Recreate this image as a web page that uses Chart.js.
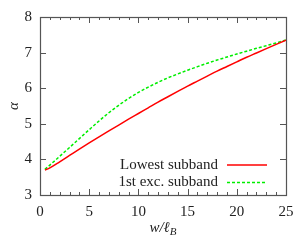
<!DOCTYPE html>
<html>
<head>
<meta charset="utf-8">
<script src="https://cdn.jsdelivr.net/npm/chart.js@4"></script>
<style>
html,body{margin:0;padding:0;background:#fff;}
#wrap{width:307px;height:245px;position:relative;}
</style>
</head>
<body>
<div id="wrap"><canvas id="c" width="307" height="245"></canvas></div>
<script>
const xValues = [0.5,1,2,3,4,5,6,7,8,9,10,11,12,13,14,15,16,17,18,19,20,21,22,23,24,25];
const lowestSubband = [3.70,3.76,3.93,4.11,4.29,4.465,4.635,4.80,4.965,5.13,5.29,5.45,5.61,5.76,5.91,6.06,6.20,6.34,6.48,6.61,6.74,6.87,6.99,7.11,7.23,7.35];
const firstExcSubband = [3.72,3.84,4.085,4.335,4.585,4.835,5.08,5.31,5.52,5.71,5.88,6.03,6.165,6.29,6.40,6.505,6.605,6.70,6.79,6.875,6.96,7.04,7.12,7.195,7.27,7.355];
const seriesLabels = ["Lowest subband","1st exc. subband"];
const xTicks = [0,5,10,15,20,25];
const yTicks = [3,4,5,6,7,8];

const FONT = "'Liberation Serif', serif";
const TXT = "#222";
const FRAME = "#555";

const toPts = (ys) => xValues.map((x,i)=>({x:x,y:ys[i]}));

const framePlugin = {
  id:'frame',
  afterDatasetsDraw(chart){
    const ctx = chart.ctx, a = chart.chartArea;
    const xs = chart.scales.x, ys = chart.scales.y;
    ctx.save();
    ctx.strokeStyle = FRAME; ctx.lineWidth = 1;
    ctx.beginPath();
    for(let v=0; v<=25; v++){
      const px = Math.round(xs.getPixelForValue(v))+0.5;
      const len = (v%5===0)?6:3;
      ctx.moveTo(px,a.bottom); ctx.lineTo(px,a.bottom-len);
      ctx.moveTo(px,a.top); ctx.lineTo(px,a.top+len);
    }
    yTicks.forEach(v=>{
      const py = Math.round(ys.getPixelForValue(v))+0.5;
      ctx.moveTo(a.left,py); ctx.lineTo(a.left+6,py);
      ctx.moveTo(a.right,py); ctx.lineTo(a.right-6,py);
    });
    ctx.stroke();
    ctx.lineWidth = 1.2;
    ctx.strokeRect(Math.round(a.left)+0.5, Math.round(a.top)+0.5, Math.round(a.right-a.left), Math.round(a.bottom-a.top));
    // legend
    ctx.font = "15px " + FONT;
    ctx.fillStyle = TXT; ctx.textAlign='right'; ctx.textBaseline='middle';
    const rows = [165, 182.5];
    chart.data.datasets.forEach((ds,i)=>{
      ctx.fillText(ds.label, 218, rows[i]);
      ctx.strokeStyle = ds.borderColor; ctx.lineWidth = 1.5;
      ctx.setLineDash(ds.borderDash||[]);
      ctx.beginPath(); ctx.moveTo(227,rows[i]); ctx.lineTo(267,rows[i]); ctx.stroke();
      ctx.setLineDash([]);
    });
    // x title w/ℓ_B
    ctx.textAlign='left'; ctx.textBaseline='alphabetic';
    ctx.font = "italic 15px " + FONT;
    const main = "w/ℓ";
    const wMain = ctx.measureText(main).width;
    ctx.font = "italic 11px " + FONT;
    const wSub = ctx.measureText("B").width;
    const cx = (a.left+a.right)/2;
    const x0 = cx - (wMain+wSub)/2;
    ctx.font = "italic 15px " + FONT;
    ctx.fillText(main, x0, 232);
    ctx.font = "italic 11px " + FONT;
    ctx.fillText("B", x0+wMain, 235);
    ctx.restore();
  }
};

new Chart(document.getElementById('c'), {
  type:'line',
  data:{
    datasets:[
      {label:seriesLabels[0], data:toPts(lowestSubband), borderColor:'#ff0000', borderWidth:1.5, pointRadius:0, fill:false, cubicInterpolationMode:'monotone'},
      {label:seriesLabels[1], data:toPts(firstExcSubband), borderColor:'#00ee00', borderWidth:1.5, borderDash:[3,2], pointRadius:0, fill:false, cubicInterpolationMode:'monotone'}
    ]
  },
  options:{
    responsive:false, animation:false,
    layout:{padding:{left:5,right:21,top:17,bottom:0}},
    plugins:{legend:{display:false}, tooltip:{enabled:false}},
    scales:{
      x:{type:'linear', min:0, max:25,
        afterBuildTicks(s){ s.ticks = xTicks.map(v=>({value:v})); },
        afterFit(s){ s.height = 50; },
        grid:{display:false, drawTicks:false}, border:{display:false},
        ticks:{color:TXT, padding:8, maxRotation:0, font:{family:FONT, size:15}}
      },
      y:{type:'linear', min:3, max:8,
        afterBuildTicks(s){ s.ticks = yTicks.map(v=>({value:v})); },
        afterFit(s){ s.width = 35; },
        grid:{display:false, drawTicks:false}, border:{display:false},
        ticks:{color:TXT, padding:8, font:{family:FONT, size:15}},
        title:{display:true, text:'α', color:TXT, padding:{top:0,bottom:0}, font:{family:FONT, size:15, style:'italic'}}
      }
    }
  },
  plugins:[framePlugin]
});
</script>
</body>
</html>
